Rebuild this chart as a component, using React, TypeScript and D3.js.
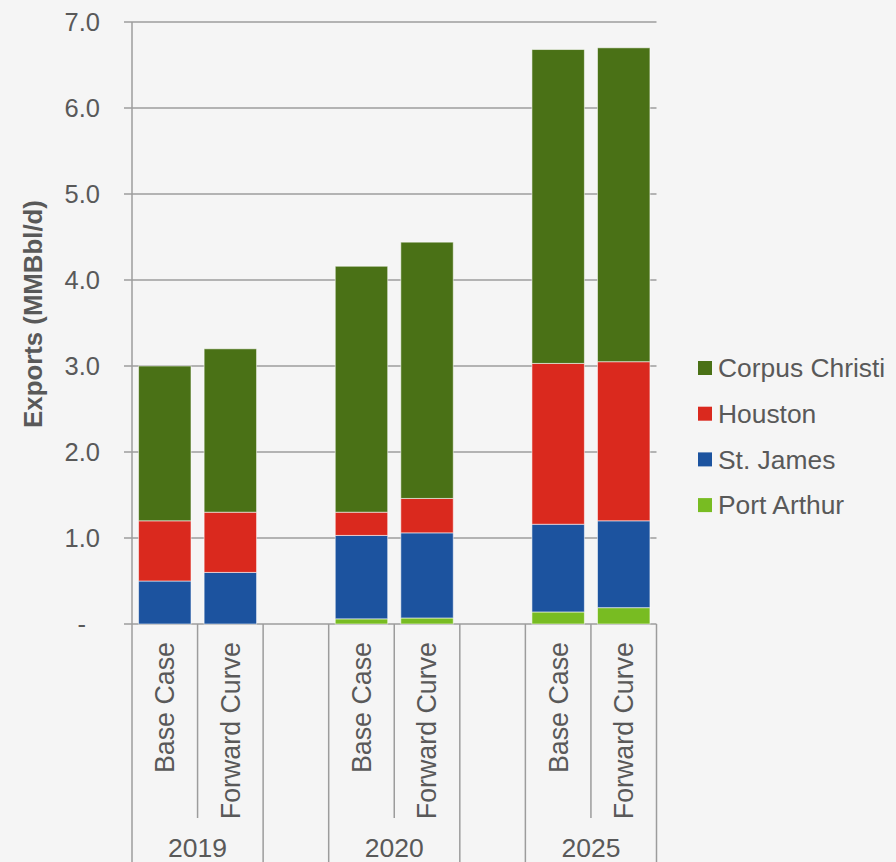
import React from "react";
import * as d3 from "d3";

const years = ["2019", "2020", "2025"];
const scenarios = ["Base Case", "Forward Curve"];
const seriesNames = ["Port Arthur", "St. James", "Houston", "Corpus Christi"];
const seriesColors = ["#78bc22", "#1c539f", "#da291e", "#4a7116"];
// values per bar: 2019 BC, 2019 FC, 2020 BC, 2020 FC, 2025 BC, 2025 FC
const portArthur = [0, 0, 0.06, 0.07, 0.14, 0.19];
const stJames = [0.5, 0.6, 0.97, 0.99, 1.02, 1.01];
const houston = [0.7, 0.7, 0.27, 0.4, 1.87, 1.85];
const corpusChristi = [1.8, 1.9, 2.86, 2.98, 3.65, 3.65];
const yTicks = [0, 1, 2, 3, 4, 5, 6, 7];

const W = 896;
const H = 862;
const FONT = "'Liberation Sans', Arial, Helvetica, sans-serif";
const TEXT = "#595959";
const GRID = "#9c9c9c";

export default function App() {
  const slots: string[] = [];
  years.forEach((y, i) => {
    scenarios.forEach((s) => slots.push(`${y}|${s}`));
    if (i < years.length - 1) slots.push(`gap${i}`);
  });
  const barKeys = years.flatMap((y) => scenarios.map((s) => `${y}|${s}`));

  const x = d3.scaleBand<string>().domain(slots).range([132, 656.5]).padding(0);
  const y = d3.scaleLinear().domain([0, 7]).range([624, 22]);
  const bw = x.bandwidth();

  const rows = barKeys.map((k, i) => ({
    key: k,
    "Port Arthur": portArthur[i],
    "St. James": stJames[i],
    Houston: houston[i],
    "Corpus Christi": corpusChristi[i],
  }));
  const stack = d3.stack<any>().keys(seriesNames)(rows);

  // separators
  const fullLines: number[] = [132];
  const shortLines: number[] = [];
  years.forEach((yr, i) => {
    const first = x(`${yr}|${scenarios[0]}`)!;
    shortLines.push(first + bw);
    fullLines.push(first + 2 * bw);
    if (i < years.length - 1) fullLines.push(first + 3 * bw);
  });

  const legendOrder = [...seriesNames].reverse();

  return (
    <svg
      width={W}
      height={H}
      style={{ position: "fixed", left: 0, top: 0, background: "#f5f5f5" }}
      fontFamily={FONT}
    >
      <rect x={0} y={0} width={W} height={H} fill="#f5f5f5" />
      {/* gridlines and ticks */}
      {yTicks.map((t) => (
        <g key={t}>
          <line x1={124} x2={656.5} y1={y(t)} y2={y(t)} stroke={GRID} strokeWidth={1.5} />
          <text
            x={t === 0 ? 86 : 100}
            y={y(t)}
            dy="0.35em"
            textAnchor="end"
            fontSize={25.5}
            fill={TEXT}
          >
            {t === 0 ? "-" : t.toFixed(1)}
          </text>
        </g>
      ))}
      <line x1={132} x2={132} y1={y(7)} y2={624} stroke={GRID} strokeWidth={1.5} />
      {/* bars */}
      {stack.map((layer, si) => (
        <g key={seriesNames[si]} fill={seriesColors[si]}>
          {layer.map((d, i) => {
            const h = y(d[0]) - y(d[1]);
            if (h <= 0) return null;
            return (
              <rect
                key={i}
                x={x(barKeys[i])! + bw * 0.1}
                width={bw * 0.8}
                y={y(d[1])}
                height={h}
                stroke="rgba(255,255,255,0.55)"
                strokeWidth={1}
              />
            );
          })}
        </g>
      ))}
      {/* category axis separators */}
      {fullLines.map((lx, i) => (
        <line key={`f${i}`} x1={lx} x2={lx} y1={624} y2={H} stroke={GRID} strokeWidth={1.5} />
      ))}
      {shortLines.map((lx, i) => (
        <line key={`s${i}`} x1={lx} x2={lx} y1={624} y2={818} stroke={GRID} strokeWidth={1.5} />
      ))}
      {/* scenario labels */}
      {barKeys.map((k) => {
        const cx = x(k)! + bw / 2;
        const label = k.split("|")[1];
        return (
          <text
            key={k}
            transform={`translate(${cx},642) rotate(-90)`}
            dy="0.35em"
            textAnchor="end"
            fontSize={26.8}
            fill={TEXT}
          >
            {label}
          </text>
        );
      })}
      {/* year labels */}
      {years.map((yr) => {
        const cx = x(`${yr}|${scenarios[0]}`)! + bw;
        return (
          <text key={yr} x={cx} y={857} textAnchor="middle" fontSize={26.5} fill={TEXT}>
            {yr}
          </text>
        );
      })}
      {/* axis title */}
      <text
        transform={`translate(33,314) rotate(-90)`}
        dy="0.35em"
        textAnchor="middle"
        fontSize={25.8}
        fontWeight="bold"
        fill={TEXT}
      >
        Exports (MMBbl/d)
      </text>
      {/* legend */}
      {legendOrder.map((name, i) => {
        const cy = 368 + i * 45.7;
        const color = seriesColors[seriesNames.indexOf(name)];
        return (
          <g key={name}>
            <rect x={698} y={cy - 7} width={14} height={14} fill={color} />
            <text x={718} y={cy} dy="0.35em" fontSize={26.4} fill={TEXT}>
              {name}
            </text>
          </g>
        );
      })}
    </svg>
  );
}
